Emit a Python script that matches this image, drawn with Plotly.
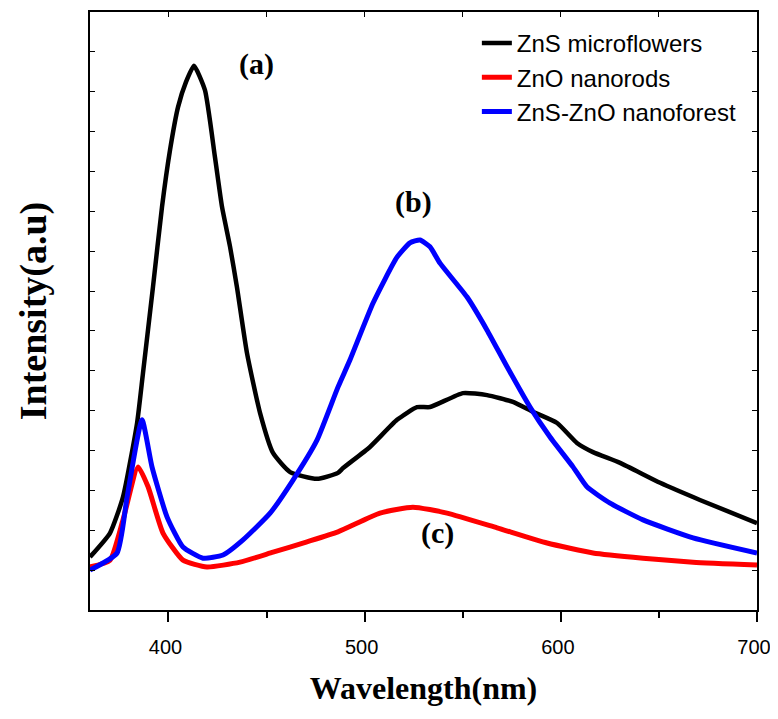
import plotly.graph_objects as go

# ZnS microflowers (a)
zns_wl = [360, 370.2, 376.8, 384.0, 387.0, 392.1, 396.7, 400.8, 404.9, 408.9, 413.0, 418.6,
          423.7, 427.3, 431.4, 434.9, 440.0, 446.7, 453.3, 462.0, 475.7, 486.4, 489.0, 502.7,
          516.5, 526.7, 533.3, 550.1, 562.4, 575.6, 585.8, 598.1, 608.2, 616.4, 630.2, 650.6,
          670.9, 700]
zns_int = [1.33, 1.93, 2.83, 4.69, 5.94, 8.10, 10.11, 11.54, 12.62, 13.24, 13.65, 13.04,
           11.36, 10.11, 9.11, 8.10, 6.45, 4.94, 3.94, 3.46, 3.29, 3.44, 3.56, 4.09,
           4.77, 5.09, 5.09, 5.44, 5.39, 5.22, 4.97, 4.69, 4.19, 3.96, 3.69, 3.19,
           2.76, 2.18]

# ZnO nanorods (c)
zno_wl = [360, 370.2, 376.8, 384.5, 389.6, 397.2, 407.4, 419.6, 436.5, 453.3, 470.6, 486.4,
          507.8, 524.6, 542.0, 567.5, 593.0, 616.4, 641.9, 667.4, 700]
zno_int = [1.08, 1.25, 2.26, 3.59, 3.09, 1.93, 1.25, 1.08, 1.20, 1.45, 1.71, 1.96,
           2.43, 2.58, 2.43, 2.06, 1.68, 1.43, 1.30, 1.20, 1.13]

# ZnS-ZnO nanoforest (b)
nf_wl = [360, 373.8, 378.9, 386.5, 391.6, 399.3, 407.4, 417.6, 427.8, 438.0, 451.8, 463.5,
         475.7, 486.4, 492.5, 504.3, 516.5, 523.1, 528.2, 533.3, 538.4, 552.2, 562.4, 572.6,
         584.3, 594.5, 606.2, 613.3, 625.1, 641.9, 667.4, 700]
nf_int = [1.00, 1.43, 2.83, 4.77, 3.59, 2.33, 1.58, 1.30, 1.38, 1.76, 2.43, 3.26,
          4.26, 5.59, 6.27, 7.70, 8.85, 9.21, 9.28, 9.11, 8.70, 7.85, 7.02, 6.10,
          5.09, 4.34, 3.59, 3.09, 2.68, 2.26, 1.81, 1.43]

labels = ["(a)", "(b)", "(c)"]
label_x = [445, 525, 537]
label_y = [13.7, 10.23, 1.93]

x_ticks = [400, 500, 600, 700]

SANS = "Liberation Sans, Arial, sans-serif"
SERIF = "Liberation Serif, Times New Roman, serif"

fig = go.Figure()
fig.add_trace(go.Scatter(x=zns_wl, y=zns_int, mode="lines", name="ZnS microflowers",
                         line=dict(color="black", width=4.5, shape="spline", smoothing=0.5)))
fig.add_trace(go.Scatter(x=zno_wl, y=zno_int, mode="lines", name="ZnO nanorods",
                         line=dict(color="#ff0000", width=5, shape="spline", smoothing=0.5)))
fig.add_trace(go.Scatter(x=nf_wl, y=nf_int, mode="lines", name="ZnS-ZnO nanoforest",
                         line=dict(color="#0000ff", width=5, shape="spline", smoothing=0.5)))
# invisible trace for top axis ticks
fig.add_trace(go.Scatter(x=[360, 700], y=[0, 0], xaxis="x2", mode="lines",
                         line=dict(width=0), showlegend=False, hoverinfo="skip"))

for t, xv, yv in zip(labels, label_x, label_y):
    fig.add_annotation(x=xv, y=yv, text=t, showarrow=False,
                       font=dict(family=SERIF, size=30, color="black", weight="bold"))

# the page adds an 8 px body margin; size the figure so no scrollbar appears
fig.update_layout(
    width=770, height=703,
    margin=dict(l=82, r=21, t=4, b=101, autoexpand=False),
    plot_bgcolor="white", paper_bgcolor="white",
    showlegend=True,
    legend=dict(x=0.58, y=0.985, xanchor="left", yanchor="top",
                font=dict(family=SANS, size=24, color="black"),
                bgcolor="rgba(0,0,0,0)", tracegroupgap=0),
    xaxis=dict(range=[360, 700], tickvals=x_ticks, ticks="outside", ticklen=10, tickwidth=1.5,
               tickcolor="black", showline=True, linecolor="black", linewidth=2, mirror=True,
               showgrid=False, zeroline=False, automargin=False, ticklabelstandoff=8,
               ticklabelshift=-3,
               minor=dict(dtick=50, tick0=0, ticks="outside", ticklen=6, tickwidth=1.5, tickcolor="black"),
               tickfont=dict(family=SANS, size=20, color="black"),
               title=dict(text="Wavelength(nm)", standoff=20,
                          font=dict(family=SERIF, size=32, color="black", weight="bold"))),
    xaxis2=dict(range=[360, 700], overlaying="x", side="top", ticks="inside", dtick=50, tick0=0,
                ticklen=5, tickwidth=1, tickcolor="black", showticklabels=False, automargin=False,
                showgrid=False, zeroline=False, showline=False),
    yaxis=dict(range=[0, 15], dtick=1, ticks="inside", ticklen=5, tickwidth=1, tickcolor="black",
               showticklabels=False, showline=True, linecolor="black", linewidth=2, mirror="ticks",
               showgrid=False, zeroline=False, automargin=False,
               title=dict(text="Intensity(a.u)", standoff=30,
                          font=dict(family=SERIF, size=38, color="black", weight="bold"))),
)

fig.write_html("out.html")
